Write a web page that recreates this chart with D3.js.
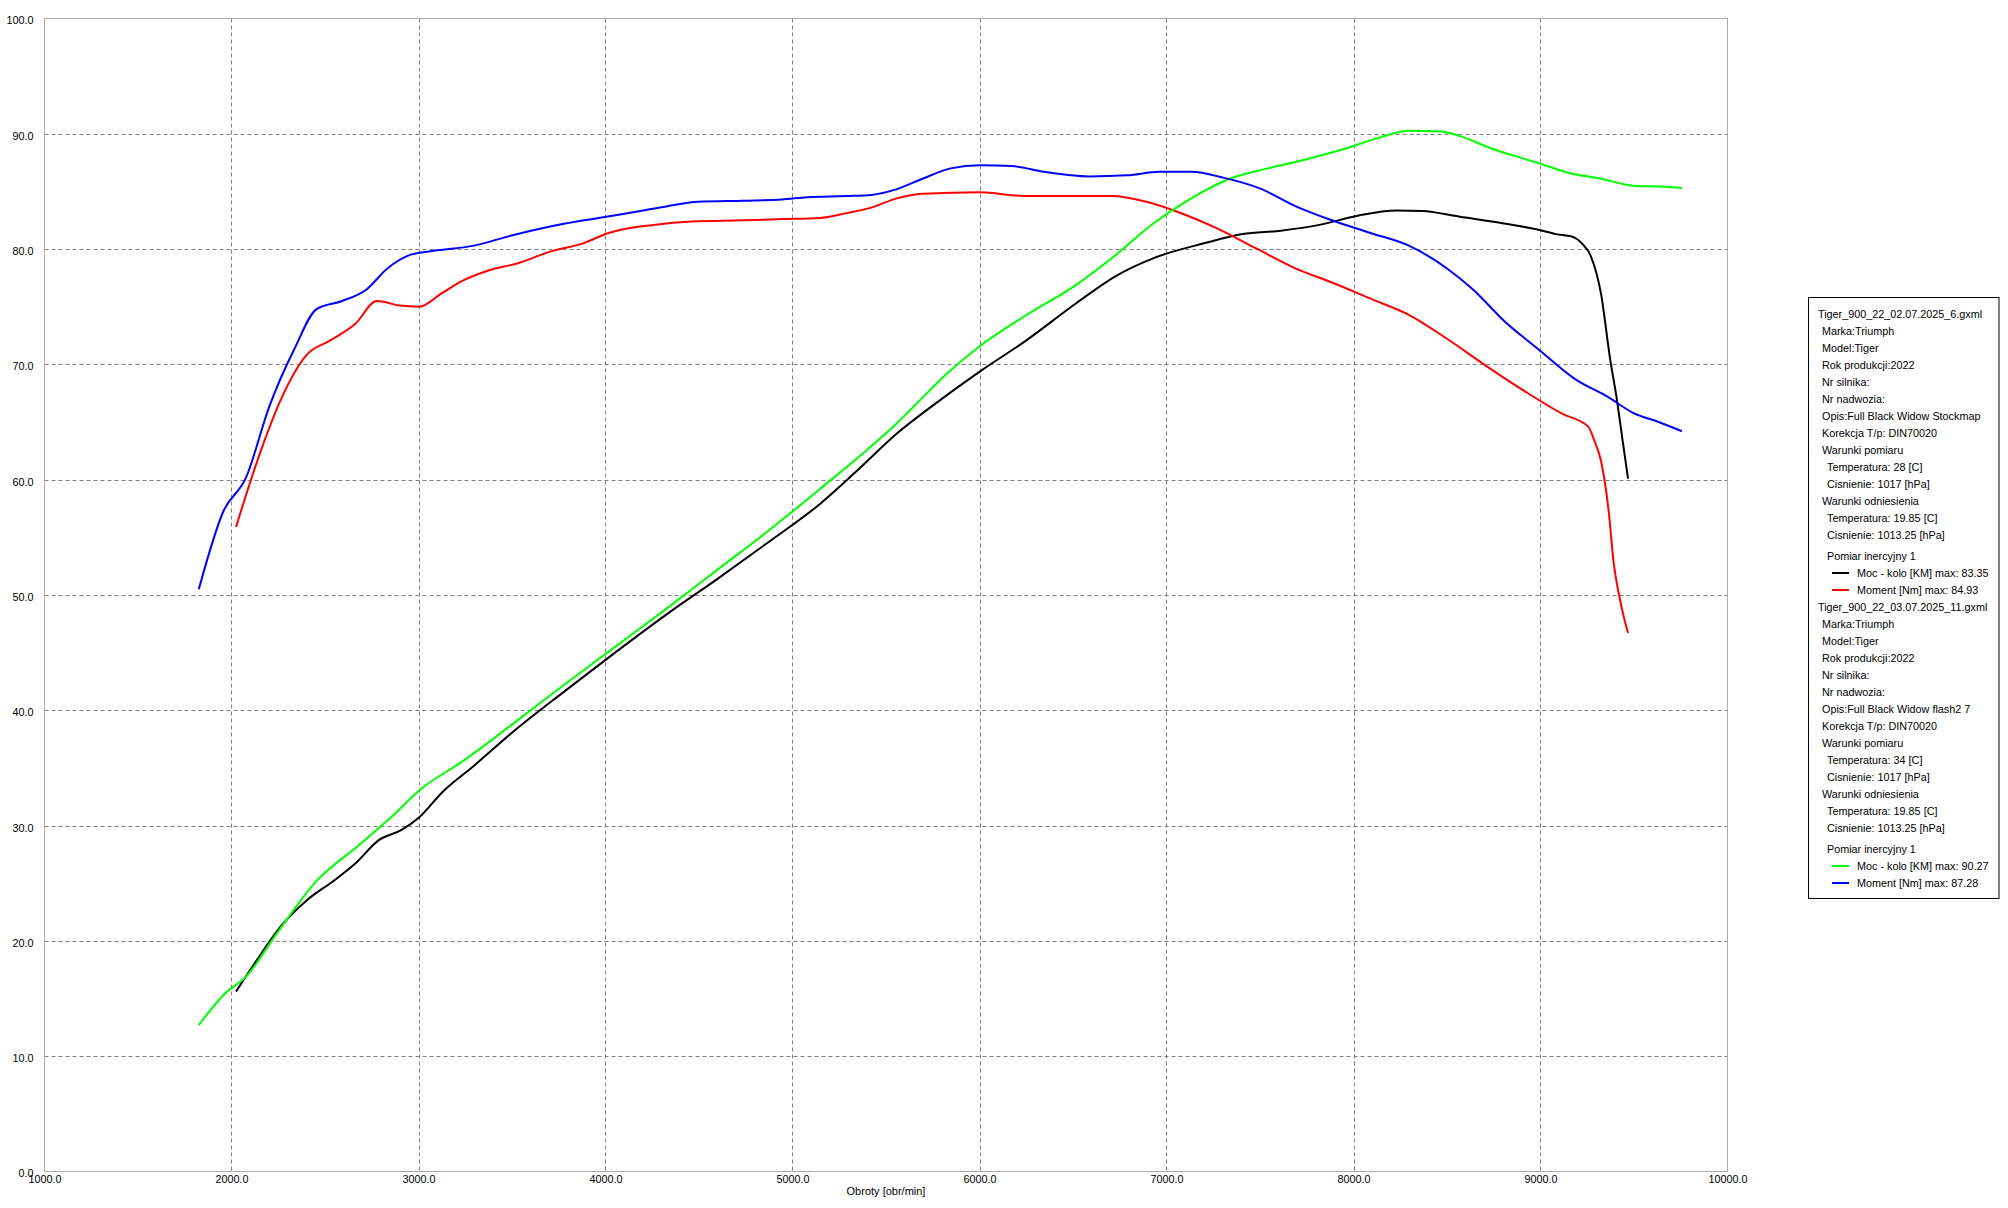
<!DOCTYPE html>
<html><head><meta charset="utf-8">
<script src="https://cdn.jsdelivr.net/npm/d3@7"></script>
<style>
body{margin:0;background:#fff}
svg{display:block}
text{font-family:"Liberation Sans",Arial,sans-serif;fill:#000}
</style>
</head><body>
<svg id="chart" width="2008" height="1208"></svg>
<script>
// ---- axis ticks ----
const xTicks = [1000,2000,3000,4000,5000,6000,7000,8000,9000,10000];
const yTicks = [0,10,20,30,40,50,60,70,80,90,100];
const xTitle = "Obroty [obr/min]";

// ---- run 1 (Stockmap): power (black) ----
const rpmPower1 = [2024,2134,2271,2408,2545,2668,2784,2907,3003,3127,3297,3503,3777,4051,4325,4599,4873,5147,5353,5558,5764,6003,6243,6517,6722,6928,7201,7407,7612,7818,8023,8229,8366,8570,8776,8982,9084,9166,9221,9269,9324,9372,9406,9440,9468];
const power1    = [15.6,18.3,21.4,23.6,25.2,26.8,28.7,29.6,30.7,32.9,35.2,38.1,41.6,45.0,48.3,51.4,54.6,57.9,60.9,64.0,66.6,69.4,72.0,75.3,77.6,79.2,80.5,81.3,81.6,82.1,82.9,83.35,83.3,82.8,82.3,81.7,81.3,81.1,80.5,79.4,76.1,70.5,67.2,63.3,60.1];

// ---- run 1 (Stockmap): torque (red) ----
const rpmTorque1 = [2024,2161,2271,2401,2531,2661,2777,2900,3003,3127,3229,3366,3537,3708,3880,4017,4256,4462,4736,4942,5147,5284,5421,5558,5695,6003,6243,6448,6708,6893,7064,7270,7475,7680,7885,8091,8296,8502,8707,8913,9118,9255,9290,9324,9365,9392,9420,9447,9468];
const torque1    = [55.9,62.7,67.2,70.8,72.1,73.5,75.5,75.1,75.0,76.2,77.2,78.1,78.8,79.8,80.5,81.4,82.1,82.4,82.5,82.6,82.7,83.1,83.6,84.4,84.8,84.93,84.6,84.6,84.6,84.1,83.2,81.8,80.1,78.4,77.1,75.7,74.3,72.2,69.9,67.7,65.7,64.6,63.3,61.6,57.2,52.7,50.0,48.0,46.7];

// ---- run 2 (flash2 7): power (green) ----
const rpmPower2 = [1825,1969,2078,2236,2455,2681,2838,3023,3229,3503,3777,4051,4325,4599,4873,5147,5421,5558,5627,5832,6003,6243,6517,6722,6928,7132,7338,7543,7749,7954,8125,8296,8467,8570,8741,8982,9153,9324,9495,9666,9756];
const power2    = [12.7,15.5,16.9,20.5,25.2,28.3,30.5,33.3,35.5,38.8,42.2,45.5,48.8,52.2,55.6,59.2,62.9,64.9,66.0,69.3,71.6,74.2,76.9,79.4,82.2,84.4,86.1,87.0,87.8,88.7,89.6,90.27,90.2,89.8,88.7,87.5,86.6,86.1,85.5,85.4,85.3];

// ---- run 2 (flash2 7): torque (blue) ----
const rpmTorque2 = [1825,1955,2078,2201,2338,2455,2592,2722,2832,2955,3058,3297,3503,3777,4003,4188,4325,4496,4736,4942,5079,5284,5421,5558,5695,5846,6003,6174,6345,6585,6790,6961,7132,7303,7509,7680,7885,8091,8296,8502,8639,8810,8982,9187,9358,9495,9632,9756];
const torque2    = [50.5,57.2,60.2,66.3,71.4,74.8,75.5,76.5,78.3,79.5,79.8,80.3,81.2,82.2,82.8,83.3,83.7,84.1,84.2,84.3,84.5,84.6,84.7,85.2,86.1,87.0,87.28,87.2,86.7,86.3,86.4,86.7,86.7,86.2,85.2,83.8,82.5,81.4,80.3,78.3,76.5,73.7,71.4,68.7,67.2,65.8,65.0,64.2];

// ---- legend texts ----
const legendTitle1 = "Tiger_900_22_02.07.2025_6.gxml";
const legendInfo1 = ["Marka:Triumph","Model:Tiger","Rok produkcji:2022","Nr silnika:","Nr nadwozia:","Opis:Full Black Widow Stockmap","Korekcja T/p: DIN70020","Warunki pomiaru"," Temperatura: 28 [C]"," Cisnienie: 1017 [hPa]","Warunki odniesienia"," Temperatura: 19.85 [C]"," Cisnienie: 1013.25 [hPa]"];
const legendSeries1 = ["Moc - kolo [KM] max: 83.35","Moment [Nm] max: 84.93"];
const legendTitle2 = "Tiger_900_22_03.07.2025_11.gxml";
const legendInfo2 = ["Marka:Triumph","Model:Tiger","Rok produkcji:2022","Nr silnika:","Nr nadwozia:","Opis:Full Black Widow flash2 7","Korekcja T/p: DIN70020","Warunki pomiaru"," Temperatura: 34 [C]"," Cisnienie: 1017 [hPa]","Warunki odniesienia"," Temperatura: 19.85 [C]"," Cisnienie: 1013.25 [hPa]"];
const legendSeries2 = ["Moc - kolo [KM] max: 90.27","Moment [Nm] max: 87.28"];
const measureLabel = "Pomiar inercyjny 1";
const colors1 = ["#000000","#ff0000"];
const colors2 = ["#00ff00","#0000ff"];

// ---- drawing ----
const svg = d3.select("#chart");
const L = 44.5, R = 1727.5, T = 18.5, B = 1171.5;
const x = d3.scaleLinear().domain([1000,10000]).range([L,R]);
const y = d3.scaleLinear().domain([0,100]).range([B,T]);

svg.append("rect").attr("width",2008).attr("height",1208).attr("fill","#fff");

// grid
const grid = svg.append("g");
grid.selectAll("line.vx").data(xTicks.filter(v=>v>1000 && v<10000)).join("line")
  .attr("x1",d=>Math.round(x(d))+0.5).attr("x2",d=>Math.round(x(d))+0.5)
  .attr("y1",T).attr("y2",B)
  .attr("stroke","#808080").attr("stroke-width",1).attr("stroke-dasharray","4,3");
grid.selectAll("line.hy").data(yTicks.filter(v=>v>0 && v<100)).join("line")
  .attr("y1",d=>Math.round(y(d))+0.5).attr("y2",d=>Math.round(y(d))+0.5)
  .attr("x1",L).attr("x2",R)
  .attr("stroke","#808080").attr("stroke-width",1).attr("stroke-dasharray","4,3");

// frame
svg.append("rect").attr("x",L).attr("y",T).attr("width",R-L).attr("height",B-T)
  .attr("fill","none").attr("stroke","#ababab").attr("stroke-width",1);

// axes labels
const xAxis = d3.axisBottom(x).tickValues(xTicks).tickFormat(d=>d3.format(".1f")(d)).tickSize(0).tickPadding(0);
const gx = svg.append("g").attr("transform",`translate(0,${B})`).call(xAxis);
gx.select(".domain").remove();
gx.selectAll("text").attr("dy",null).attr("y",11.5).attr("font-size","10.8px").attr("font-family","Liberation Sans, Arial, sans-serif").attr("fill","#000");

const yAxis = d3.axisLeft(y).tickValues(yTicks).tickFormat(d=>d3.format(".1f")(d)).tickSize(0).tickPadding(0);
const gy = svg.append("g").attr("transform",`translate(${L-11},0)`).call(yAxis);
gy.select(".domain").remove();
gy.selectAll("text").attr("dy","0.5em").attr("font-size","10.8px").attr("font-family","Liberation Sans, Arial, sans-serif").attr("fill","#000");

svg.append("text").attr("x",(L+R)/2).attr("y",1195).attr("text-anchor","middle")
  .attr("font-size","11px").text(xTitle);

// curves
const series = [
  {rpm:rpmPower1, v:power1, c:colors1[0]},
  {rpm:rpmTorque1, v:torque1, c:colors1[1]},
  {rpm:rpmPower2, v:power2, c:colors2[0]},
  {rpm:rpmTorque2, v:torque2, c:colors2[1]}
];
const line = d3.line().x(d=>x(d[0])).y(d=>y(d[1])).curve(d3.curveMonotoneX);
svg.append("g").selectAll("path").data(series).join("path")
  .attr("d",s=>line(s.rpm.map((r,i)=>[r,s.v[i]])))
  .attr("fill","none").attr("stroke",s=>s.c).attr("stroke-width",2).attr("stroke-linejoin","round");

// legend
const lg = svg.append("g");
lg.append("rect").attr("x",1808.5).attr("y",297.5).attr("width",190.5).attr("height",601)
  .attr("fill","#fff").attr("stroke","#000").attr("stroke-width",1);
const fs = "10.8px";
function legendGroup(y0, title, info, ser, cols){
  const rows = [];
  rows.push({t:title, x:1818, y:y0});
  info.forEach((s,i)=>{
    const deep = s.startsWith(" ");
    rows.push({t:s.trim(), x: deep?1827:1822, y:y0+17*(i+1)});
  });
  const yP = y0 + 17*info.length + 21;
  rows.push({t:measureLabel, x:1827, y:yP});
  lg.selectAll(null).data(rows).join("text")
    .attr("x",d=>d.x).attr("y",d=>d.y).attr("dy","0.36em").attr("font-size",fs).text(d=>d.t);
  ser.forEach((s,i)=>{
    const yy = yP + 17*(i+1);
    lg.append("line").attr("x1",1832).attr("x2",1849).attr("y1",yy).attr("y2",yy)
      .attr("stroke",cols[i]).attr("stroke-width",2);
    lg.append("text").attr("x",1857).attr("y",yy).attr("dy","0.36em").attr("font-size",fs).text(s);
  });
}
legendGroup(314, legendTitle1, legendInfo1, legendSeries1, colors1);
legendGroup(607, legendTitle2, legendInfo2, legendSeries2, colors2);
</script>
</body></html>
